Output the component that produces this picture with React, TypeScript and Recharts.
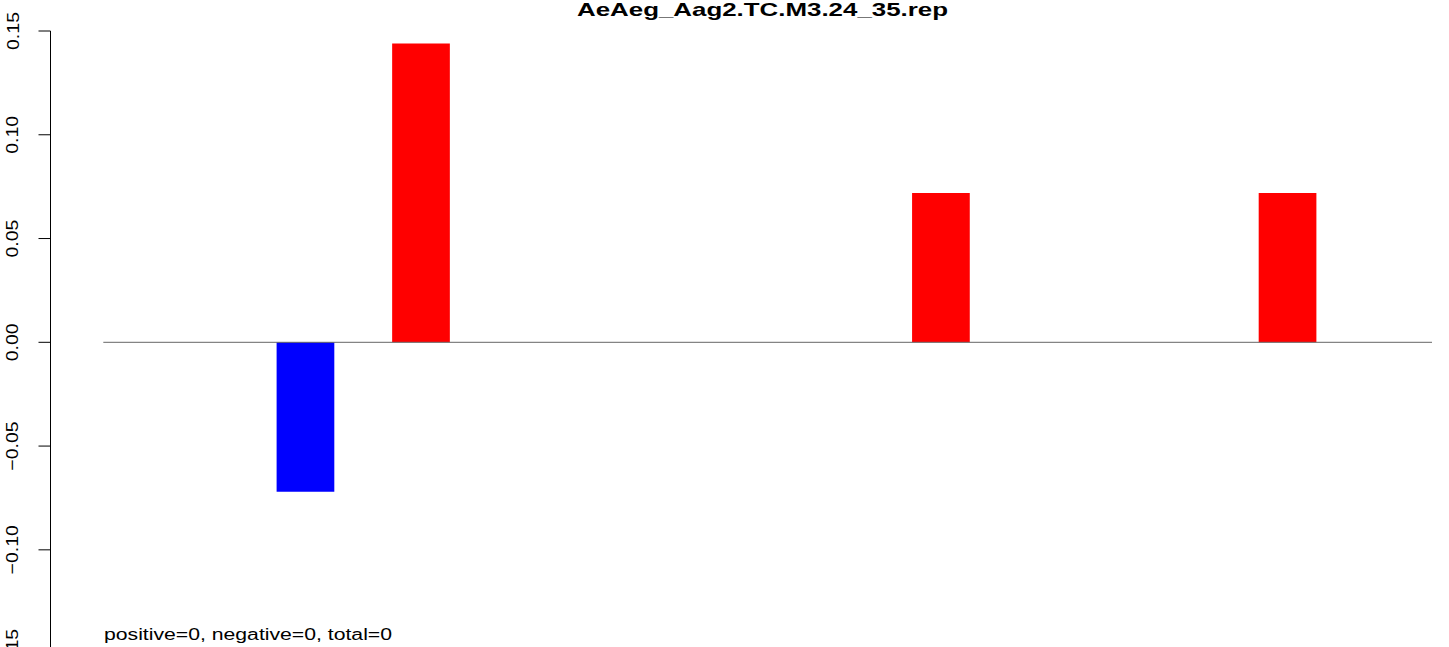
import React from "react";
import { Bar, BarChart, ReferenceLine, XAxis, YAxis } from "recharts";

// one slot per position along the x axis (no labels drawn in the original)
const positions = [
  1, 2, 3, 4, 5, 6, 7, 8, 9, 10, 11, 12, 13, 14, 15, 16, 17, 18, 19, 20, 21, 22, 23,
];
// red bars, drawn above zero
const positiveValues = [
  0, 0, 0, 0, 0, 0.144, 0, 0, 0, 0, 0, 0, 0, 0, 0.072, 0, 0, 0, 0, 0, 0.072, 0, 0,
];
// blue bars, drawn below zero
const negativeValues = [
  0, 0, 0, -0.072, 0, 0, 0, 0, 0, 0, 0, 0, 0, 0, 0, 0, 0, 0, 0, 0, 0, 0, 0,
];
const yTicks = [-0.15, -0.1, -0.05, 0, 0.05, 0.1, 0.15];

const title = "AeAeg_Aag2.TC.M3.24_35.rep";
const counts = [
  ["positive", 0],
  ["negative", 0],
  ["total", 0],
] as const;

const FONT = "'Liberation Sans', Arial, Helvetica, sans-serif";

const data = positions.map((p, i) => ({
  x: i + 0.5,
  position: p,
  pos: positiveValues[i],
  neg: negativeValues[i],
}));

const fmt = (v: number) => {
  const s = Math.abs(v).toFixed(2);
  return v < 0 ? "\u2212" + s : s;
};

// rough Helvetica advance widths, used to stretch labels like the source image
const emWidth = (s: string) =>
  s.split("").reduce((w, c) => w + (c === "." ? 0.278 : c === "\u2212" ? 0.584 : 0.556), 0);

const renderTick = (props: any) => {
  const { x, y, payload } = props;
  const label = fmt(payload.value);
  return (
    <text
      x={x}
      y={y}
      transform={`rotate(-90, ${x}, ${y})`}
      textAnchor="middle"
      fontSize={17}
      fontFamily={FONT}
      fill="#000"
      textLength={19.5 * emWidth(label)}
      lengthAdjust="spacingAndGlyphs"
    >
      {label}
    </text>
  );
};

export default function App() {
  const note = counts.map(([k, v]) => `${k}=${v}`).join(", ");
  return (
    <div style={{ position: "relative", width: 1449, height: 647, overflow: "hidden", background: "#fff" }}>
      <style>{`body{margin:0;overflow:hidden;background:#fff}`}</style>
      <BarChart
        width={1449}
        height={700}
        data={data}
        stackOffset="sign"
        margin={{ top: 31, right: 17, bottom: 46.4, left: 0 }}
      >
        <XAxis
          dataKey="x"
          type="number"
          domain={[0, positions.length]}
          padding={{ left: 52.8, right: 0 }}
          hide
        />
        <YAxis
          width={50.5}
          domain={[-0.15, 0.15]}
          ticks={yTicks}
          allowDataOverflow
          tickSize={12}
          tickMargin={20}
          axisLine={{ stroke: "#000", strokeWidth: 1 }}
          tickLine={{ stroke: "#000", strokeWidth: 1 }}
          tick={renderTick}
        />
        <ReferenceLine
          segment={[
            { x: 0, y: 0 },
            { x: positions.length, y: 0 },
          ]}
          stroke="#666"
          strokeWidth={1}
        />
        <Bar dataKey="pos" stackId="a" fill="#FF0000" barSize={57.7} isAnimationActive={false} />
        <Bar dataKey="neg" stackId="a" fill="#0000FF" barSize={57.7} isAnimationActive={false} />
      </BarChart>
      <svg
        width={1449}
        height={647}
        style={{ position: "absolute", left: 0, top: 0, pointerEvents: "none" }}
      >
        <text
          x={762.5}
          y={15.5}
          textAnchor="middle"
          fontSize={18.6}
          fontWeight="bold"
          fontFamily={FONT}
          fill="#000"
          textLength={371}
          lengthAdjust="spacingAndGlyphs"
        >
          {title}
        </text>
        <text
          x={104}
          y={640}
          fontSize={16}
          fontFamily={FONT}
          fill="#000"
          textLength={288}
          lengthAdjust="spacingAndGlyphs"
        >
          {note}
        </text>
      </svg>
    </div>
  );
}
